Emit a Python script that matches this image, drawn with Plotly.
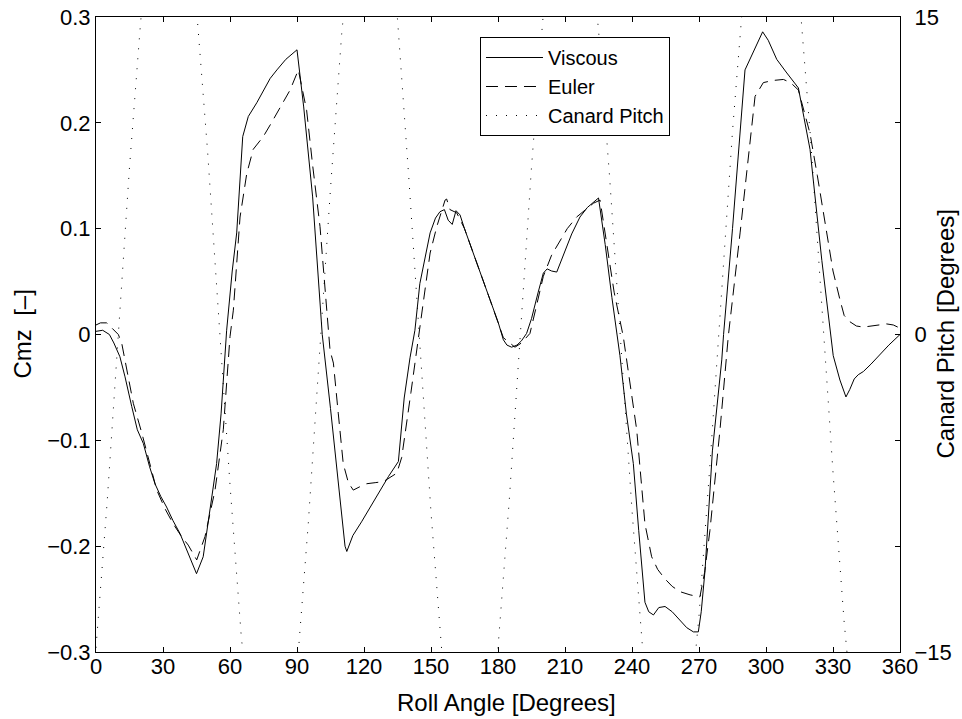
import plotly.graph_objects as go

# ---------------- data ----------------
visc_angle = [0, 3, 6, 8, 10.7, 13, 16, 18.5, 21.2, 24, 26.4, 29, 31.6, 34.5, 37.6, 41, 45,
              48, 51, 54, 56, 58.5, 61, 63, 65.7, 68.2, 72, 75, 78, 81, 85, 90,
              93, 97, 101.3, 105, 108.5, 111.5, 112.3, 115, 118.9, 123, 127.2, 131, 135.4,
              138, 140.6, 142.8, 145, 147.5, 149.6, 152, 154, 156, 157.7, 159.5, 161.2, 163,
              165, 168.9, 172.5, 176.4, 180, 182.4, 184, 186.1, 188.5, 190.5, 192.8, 195, 198,
              200.3, 202, 204, 206.3, 210, 213, 216.7, 220, 225, 228, 231, 234.6, 237.5, 240.6,
              243, 245.8, 247.5, 249.6, 252, 254.8, 258, 261.5, 264.5, 267.5, 269.7, 271, 272.7,
              276, 280.2, 281, 285, 290.6, 295, 298.5, 301, 304.8, 309, 314.5, 317, 319.7, 325,
              328.7, 330.1, 333.1, 335.8, 337.5, 339.5, 341.3, 343.6, 347, 351, 355, 360]
visc_cmz = [0.003, 0.004, 0.000, -0.008, -0.021, -0.040, -0.068, -0.090, -0.103, -0.125, -0.141,
            -0.153, -0.163, -0.176, -0.188, -0.206, -0.226,
            -0.210, -0.165, -0.122, -0.075, 0.004, 0.060, 0.096, 0.187, 0.206, 0.219, 0.231,
            0.242, 0.250, 0.260, 0.269,
            0.215, 0.130, 0.000, -0.070, -0.140, -0.200, -0.205, -0.190, -0.177, -0.162,
            -0.147, -0.134, -0.120,
            -0.060, -0.022, 0.004, 0.048, 0.076, 0.096, 0.110, 0.116, 0.118, 0.108, 0.104,
            0.117, 0.113,
            0.100, 0.077, 0.055, 0.033, 0.012, -0.005, -0.010, -0.012, -0.010, -0.006, 0.001,
            0.015, 0.040,
            0.058, 0.062, 0.060, 0.059, 0.078, 0.095, 0.111, 0.120, 0.129, 0.085, 0.035,
            -0.020, -0.075, -0.122,
            -0.185, -0.253, -0.262, -0.265, -0.258, -0.257, -0.262, -0.270, -0.277, -0.281,
            -0.281, -0.262, -0.223,
            -0.110, -0.024, 0.000, 0.100, 0.250, 0.270, 0.286, 0.278, 0.260, 0.248, 0.233,
            0.205, 0.175, 0.070,
            0.004, -0.020, -0.043, -0.059, -0.052, -0.042, -0.038, -0.035, -0.028, -0.019,
            -0.010, 0.000]

euler_angle = [0, 2, 4.8, 7, 10, 11.5, 14, 16.7, 20.5, 24, 27.2, 31, 34.6, 38, 41.3, 45.1,
               48.8, 53.3, 57, 60, 61.5, 64.5, 67.5, 70.4, 74.9, 78, 80.9, 84, 86.9, 90.6,
               94.3, 97, 100.3, 104.8, 106.3, 108.5, 110.7, 113, 115.2, 118, 121.2, 125, 128.7,
               134.7, 136.9, 141, 145, 147.5, 149.6, 152.6, 156.3, 157, 158.5, 161.5, 165, 169,
               176.4, 182.4, 187.6, 190.5, 194.3, 197, 200.3, 204, 207.8, 211, 215.2, 219,
               222.7, 225.7, 229, 232, 236.1, 242.1, 245.8, 248.8, 251.5, 254.8, 258, 261.5,
               266, 270.4, 272.5, 274.9, 279.4, 283.1, 288.4, 292.8, 295.1, 298.8, 303, 307.8,
               311, 314.5, 319.7, 323, 327.2, 330, 333.1, 335, 337.6, 340.5, 343.6, 349.6, 354,
               357, 360]
euler_cmz = [0.009, 0.011, 0.011, 0.006, 0.000, -0.008, -0.035, -0.065, -0.093, -0.122, -0.147,
             -0.165, -0.179, -0.190, -0.199, -0.213,
             -0.191, -0.147, -0.090, -0.002, 0.023, 0.111, 0.152, 0.175, 0.187, 0.198, 0.209,
             0.220, 0.231, 0.250,
             0.212, 0.160, 0.102, -0.015, -0.027, -0.075, -0.122, -0.140, -0.147, -0.144,
             -0.141, -0.140, -0.139,
             -0.131, -0.116, -0.055, 0.004, 0.045, 0.077, 0.102, 0.127, 0.128, 0.118, 0.115,
             0.100, 0.077,
             0.033, -0.003, -0.012, -0.008, 0.001, 0.025, 0.055, 0.075, 0.089, 0.100, 0.111,
             0.118,
             0.124, 0.127, 0.080, 0.040, -0.002, -0.090, -0.179, -0.210, -0.222, -0.231, -0.238,
             -0.243,
             -0.246, -0.248, -0.225, -0.185, -0.090, -0.002, 0.096, 0.184, 0.225, 0.238, 0.240,
             0.241,
             0.238, 0.231, 0.190, 0.150, 0.096, 0.060, 0.033, 0.018, 0.012, 0.008, 0.007, 0.009,
             0.010, 0.009, 0.006]

pitch_angle = [0, 5, 10, 15, 20, 25, 30, 35, 40, 45, 50, 55, 60, 65, 70, 75, 80, 85, 90, 95,
               100, 105, 110, 115, 120, 125, 130, 135, 140, 145, 150, 155, 160, 165, 170, 175,
               180, 185, 190, 195, 200, 205, 210, 215, 220, 225, 230, 235, 240, 245, 250, 255,
               260, 265, 270, 275, 280, 285, 290, 295, 300, 305, 310, 315, 320, 325, 330, 335,
               340, 345, 350, 355, 360]
pitch_deg = [-14.8, -7.9, 0.0, 7.9, 14.8, 19.9, 22.7, 22.7, 20.3, 15.4, 8.6, 0.8, -7.1, -14.2,
             -19.6, -22.6, -22.8, -20.5, -15.8, -9.0, -1.1, 6.9, 14.2, 19.6, 22.6, 22.8, 20.2,
             14.9, 7.5, -0.6, -8.4, -15.2, -20.1, -22.8, -22.6, -19.9, -14.8, -7.9, 0.0, 7.9,
             14.8, 19.9, 22.7, 22.7, 19.7, 14.4, 7.4, -0.5, -8.3, -15.2, -20.2, -22.7, -22.2,
             -18.9, -13.3, -6.0, 1.9, 9.6, 16.2, 20.8, 22.9, 22.5, 20.6, 15.9, 9.2, 1.4, -6.5,
             -13.6, -19.2, -22.4, -22.9, -20.3, -15.5]

x_ticks = [0, 30, 60, 90, 120, 150, 180, 210, 240, 270, 300, 330, 360]
y_ticks = [-0.3, -0.2, -0.1, 0, 0.1, 0.2, 0.3]
y2_ticks = [-15, -10, -5, 0, 5, 10, 15]
y2_labels = ["\u221215", "", "", "0", "", "", "15"]

x_title = "Roll Angle [Degrees]"
y_title = "Cmz  [\u2013]"
y2_title = "Canard Pitch [Degrees]"

FONT = "Liberation Sans, Arial, Helvetica, sans-serif"

fig = go.Figure()
fig.add_trace(go.Scatter(x=visc_angle, y=visc_cmz, mode="lines", name="Viscous",
                         line=dict(color="black", width=1, dash="solid")))
fig.add_trace(go.Scatter(x=euler_angle, y=euler_cmz, mode="lines", name="Euler",
                         line=dict(color="black", width=1, dash="12px,7px")))
fig.add_trace(go.Scatter(x=pitch_angle, y=pitch_deg, mode="lines", name="Canard Pitch",
                         yaxis="y2", line=dict(color="black", width=1, dash="1px,9px")))

axis_common = dict(showgrid=False, zeroline=False, showline=True, linecolor="black",
                   linewidth=1, ticks="inside", ticklen=5, tickcolor="black", tickwidth=1,
                   automargin=False,
                   tickfont=dict(family=FONT, size=22, color="black"))

title_font = dict(family=FONT, size=24, color="black")

fig.update_layout(
    width=962, height=719,
    margin=dict(l=96, r=62, t=17, b=67, autoexpand=False),
    paper_bgcolor="white", plot_bgcolor="white",
    font=dict(family=FONT, size=22, color="black"),
    showlegend=True,
    legend=dict(x=0.4776, y=0.9685, xanchor="left", yanchor="top",
                bgcolor="white", bordercolor="black", borderwidth=1,
                font=dict(family=FONT, size=20, color="black"),
                itemwidth=57, tracegroupgap=0, entrywidth=150, entrywidthmode="pixels"),
    xaxis=dict(range=[0, 360], tickvals=x_ticks, mirror="ticks", ticklabelstandoff=-5,
               **axis_common),
    yaxis=dict(range=[-0.3, 0.3], tickvals=y_ticks, mirror=True,
               **axis_common),
    yaxis2=dict(range=[-15, 15], tickvals=y2_ticks, ticktext=y2_labels, overlaying="y",
                side="right", anchor="x", ticklabelstandoff=9,
                **axis_common),
    annotations=[
        dict(text=x_title, xref="paper", yref="paper", x=0.510, y=-0.0803,
             xanchor="center", yanchor="middle", showarrow=False, font=title_font),
        dict(text=y_title, xref="paper", yref="paper", x=-0.0920, y=0.5,
             xanchor="center", yanchor="middle", showarrow=False, textangle=-90,
             font=title_font),
        dict(text=y2_title, xref="paper", yref="paper", x=1.0560, y=0.5,
             xanchor="center", yanchor="middle", showarrow=False, textangle=-90,
             font=title_font),
    ],
)

fig.write_html("out.html")
